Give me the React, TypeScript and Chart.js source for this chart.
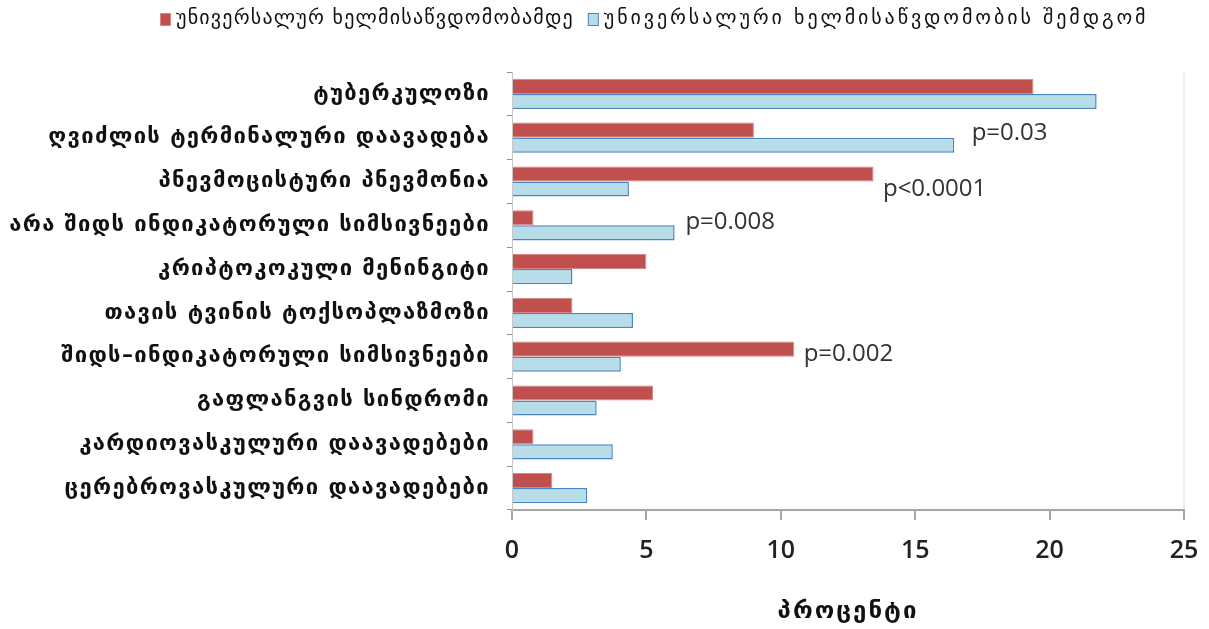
import React, { useEffect, useRef } from "react";
import { Chart, registerables } from "chart.js";

Chart.register(...registerables);

const categories = [
  "ტუბერკულოზი",
  "ღვიძლის ტერმინალური დაავადება",
  "პნევმოცისტური პნევმონია",
  "არა შიდს ინდიკატორული სიმსივნეები",
  "კრიპტოკოკული მენინგიტი",
  "თავის ტვინის ტოქსოპლაზმოზი",
  "შიდს–ინდიკატორული სიმსივნეები",
  "გაფლანგვის სინდრომი",
  "კარდიოვასკულური დაავადებები",
  "ცერებროვასკულური დაავადებები",
];
const seriesNames = [
  "უნივერსალურ ხელმისაწვდომობამდე",
  "უნივერსალური ხელმისაწვდომობის შემდგომ",
];
const beforeValues = [19.4, 9.0, 13.45, 0.8, 5.0, 2.25, 10.5, 5.25, 0.8, 1.5];
const afterValues = [21.75, 16.45, 4.35, 6.05, 2.25, 4.5, 4.05, 3.15, 3.75, 2.8];
const xTicks = [0, 5, 10, 15, 20, 25];
const xTitle = "პროცენტი";
const pLabels = ["p=0.03", "p<0.0001", "p=0.008", "p=0.002"];
const pValueX = [17.1, 13.8, 6.45, 10.85];
const pCategoryY = [0.89, 2.18, 2.93, 5.95];

const georgianFont = "'DejaVu Sans', sans-serif";
const numFont = "'Open Sans', 'Lato', sans-serif";

export default function App() {
  const ref = useRef<HTMLCanvasElement | null>(null);
  useEffect(() => {
    document.body.style.margin = "0";
    const canvas = ref.current!;
    const wrapSpacing = (chart: any, obj: any, method: string, spacing: string) => {
      if (obj[`_w_${method}`]) return;
      const orig = obj[method].bind(obj);
      obj[method] = (...args: any[]) => {
        const ctx = chart.ctx;
        const prev = (ctx as any).letterSpacing;
        (ctx as any).letterSpacing = spacing;
        orig(...args);
        (ctx as any).letterSpacing = prev || "0px";
      };
      obj[`_w_${method}`] = true;
    };
    const spacingPlugin = {
      id: "spacing",
      beforeDraw(chart: any) {
        wrapSpacing(chart, chart.scales.y, "drawLabels", "1.3px");
        wrapSpacing(chart, chart.scales.x, "drawTitle", "2px");
      },
    };
    const legendSpacing = [1.2, 2.9];
    const legendPlugin = {
      id: "customLegend",
      afterDraw(chart: any) {
        const ctx = chart.ctx;
        ctx.save();
        ctx.font = `20px ${georgianFont}`;
        ctx.textBaseline = "middle";
        let x = 160;
        const y = 19;
        chart.data.datasets.forEach((ds: any, i: number) => {
          ctx.fillStyle = ds.backgroundColor;
          ctx.fillRect(x, y - 6, 11, 13);
          ctx.strokeStyle = ds.borderColor;
          ctx.lineWidth = 1;
          ctx.strokeRect(x + 0.5, y - 5.5, 10, 12);
          ctx.fillStyle = "#111";
          ctx.textAlign = "left";
          (ctx as any).letterSpacing = "0px";
          const w = ctx.measureText(ds.label).width + legendSpacing[i] * ds.label.length;
          (ctx as any).letterSpacing = `${legendSpacing[i]}px`;
          ctx.fillText(ds.label, x + 16, y);
          x += 16 + w + 14;
        });
        ctx.restore();
      },
    };
    const pPlugin = {
      id: "pLabels",
      afterDatasetsDraw(chart: any) {
        const ctx = chart.ctx;
        const xs = chart.scales.x;
        const ys = chart.scales.y;
        ctx.save();
        (ctx as any).letterSpacing = "0px";
        ctx.font = `24px ${numFont}`;
        ctx.fillStyle = "#333";
        ctx.textAlign = "left";
        ctx.textBaseline = "middle";
        pLabels.forEach((t, i) => {
          ctx.fillText(t, xs.getPixelForValue(pValueX[i]), ys.getPixelForValue(pCategoryY[i]));
        });
        ctx.restore();
      },
    };
    const chart = new Chart(canvas, {
      type: "bar",
      data: {
        labels: categories,
        datasets: [
          {
            label: seriesNames[0],
            data: beforeValues,
            backgroundColor: "#C0504D",
            borderColor: "#D88583",
            borderWidth: 1,
            categoryPercentage: 0.69,
            barPercentage: 1,
          },
          {
            label: seriesNames[1],
            data: afterValues,
            backgroundColor: "#B7DEE8",
            borderColor: "#4F84C4",
            borderWidth: 1.5,
            categoryPercentage: 0.69,
            barPercentage: 1,
          },
        ],
      },
      options: {
        indexAxis: "y",
        animation: false,
        responsive: false,
        layout: { padding: { top: 72, right: 25, bottom: 0, left: 0 } },
        plugins: {
          legend: { display: false },
          tooltip: { enabled: false },
        },
        scales: {
          x: {
            min: 0,
            max: 25,
            afterBuildTicks: (s: any) => {
              s.ticks = xTicks.map((v) => ({ value: v }));
            },
            afterFit: (s: any) => {
              s.height = 119;
              s.paddingRight = 0;
            },
            border: { color: "#A6A6A6", width: 2 },
            grid: {
              drawOnChartArea: true,
              color: (c: any) => (c.index === xTicks.length - 1 ? "#EDEDED" : "rgba(0,0,0,0)"),
              tickColor: "#A6A6A6",
              tickLength: 10,
              lineWidth: 2,
            },
            ticks: {
              padding: 16,
              color: "#222",
              font: { family: numFont, size: 25, weight: "600" },
            },
            title: {
              display: true,
              text: xTitle,
              color: "#111",
              font: { family: georgianFont, size: 24, weight: "bold" },
              padding: { top: 0, bottom: 3 },
            },
          },
          y: {
            afterFit: (s: any) => {
              s.width = 512;
            },
            border: { color: "#C8C8C8", width: 1 },
            grid: {
              drawOnChartArea: false,
              tickColor: "#909090",
              tickLength: 5,
              offset: true,
            },
            ticks: {
              padding: 17,
              color: "#111",
              font: { family: georgianFont, size: 22, weight: "bold" },
            },
          },
        },
      },
      plugins: [spacingPlugin, legendPlugin, pPlugin],
    } as any);
    return () => chart.destroy();
  }, []);
  return (
    <div style={{ position: "fixed", left: 0, top: 0, width: 1209, height: 629, background: "#fff" }}>
      <canvas ref={ref} width={1209} height={629} />
    </div>
  );
}
